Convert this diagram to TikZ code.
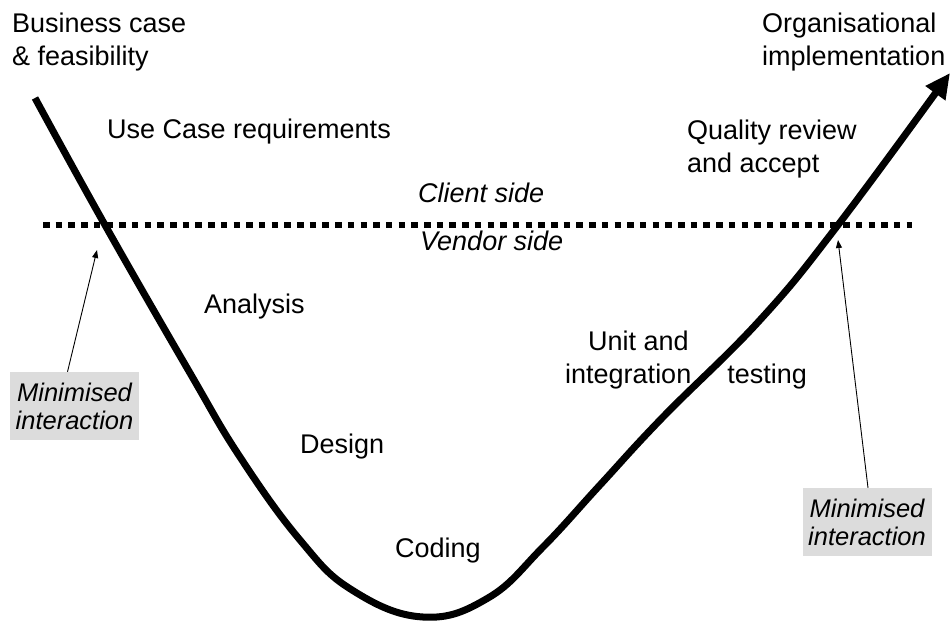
\documentclass[tikz,border=0pt]{standalone}
\usepackage{fontspec}
\setmainfont{Liberation Sans}
\usetikzlibrary{arrows.meta}
\definecolor{notegray}{RGB}{220,220,220}
\begin{document}
\begin{tikzpicture}[x=1pt,y=-1pt,
  lbl/.style={inner sep=0pt, anchor=base west, align=left, font=\fontsize{27}{33}\selectfont},
  side/.style={inner sep=0pt, anchor=base west, font=\fontsize{27}{33}\selectfont\itshape},
  note/.style={fill=notegray, inner sep=0pt, minimum width=129pt, minimum height=68pt,
    align=center, font=\fontsize{25.5}{28}\selectfont\itshape},
  vline/.style={line width=7pt, line join=round},
  divider/.style={line width=6.5pt, dash pattern=on 6.5pt off 6.2pt},
  pointer/.style={line width=0.9pt, -{Triangle[length=8pt,width=6pt]}},
]
\useasboundingbox (0,0) rectangle (951,625);

% client / vendor divider
\coordinate (dl) at (43,225);
\coordinate (dr) at (912,225);
\draw[divider] (dl) -- (dr);

% the V of the life cycle
\draw[vline, -{Triangle[length=25pt,width=23pt]}]
  plot[smooth, tension=0.7] coordinates {
    (35,98) (105,225) (190,373) (240,457) (300,540) (352,590) (423,617)
    (488,598) (543,547) (600,485) (663,417) (760,320) (838,225) (950,73)};

% stage labels (two-line labels are placed by their last baseline)
\node[lbl] (biz) at (12,65) {Business case\\\& feasibility};
\node[lbl] (org) at (762,65) {Organisational\\implementation};
\node[lbl] (uc) at (107,138) {Use Case requirements};
\node[lbl] (qr) at (687,172) {Quality review\\and accept};
\node[side] (cs) at (418,202) {Client side};
\node[side] (vs) at (420,250) {Vendor side};
\node[lbl] (an) at (204,313) {Analysis};
\node[lbl] (ds) at (300,453) {Design};
\node[lbl] (cd) at (395,557) {Coding};
\node[lbl] (ut) at (565,383) {\hspace*{23pt}Unit and\\integration\hspace{36pt}testing};

% interaction notes
\node[note] (nl) at (74.5,406) {Minimised\\interaction};
\node[note] (nr) at (867,522) {Minimised\\interaction};
\coordinate (tl) at (97,250);
\coordinate (tr) at (838,240);
\draw[pointer] ([xshift=-7pt]nl.north) -- (tl);
\draw[pointer] ([xshift=1pt]nr.north) -- (tr);
\end{tikzpicture}
\end{document}
